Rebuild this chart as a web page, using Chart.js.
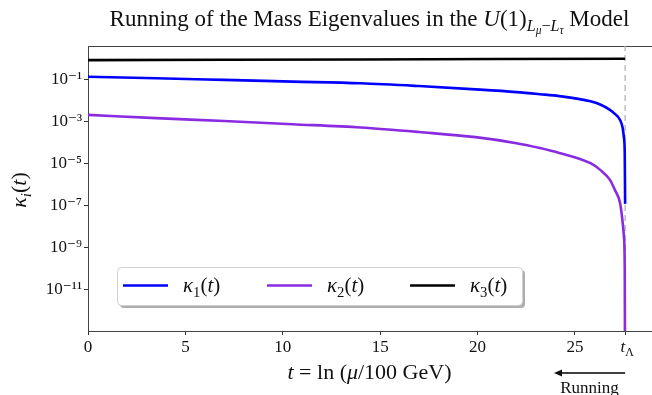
<!DOCTYPE html>
<html lang="en">
<head>
<meta charset="UTF-8">
<title>Running of the Mass Eigenvalues</title>
<script src="https://cdn.jsdelivr.net/npm/chart.js@4.4.0/dist/chart.umd.min.js"></script>
<style>
  body { margin: 0; background: #fff; overflow: hidden; }
</style>
</head>
<body>
<canvas id="chart" width="652" height="395"></canvas>
<script>
// values (log-scale y)
const T_LAMBDA = 27.58;
const X_MAX = 28.96;
const Y_MIN = 1e-13;
const Y_MAX = 3.86;

const tValues = [0, 3.5, 7, 10.5, 14, 17, 19.9, 22, 23.2, 24.2, 25.8, 26.3, 26.8, 27.05, 27.32, 27.45, 27.52, 27.56, 27.58];
const kappa1 = [0.133, 0.112, 0.0933, 0.0776, 0.0646, 0.0475, 0.0331, 0.0245, 0.0195, 0.0158, 0.0089, 0.0063, 0.0035, 0.00224, 0.00115, 5.0e-4, 1.6e-4, 3.2e-5, 1.15e-7];
const kappa2 = [2.0e-3, 1.41e-3, 1.02e-3, 7.2e-4, 5.0e-4, 3.05e-4, 1.74e-4, 9.0e-5, 5.3e-5, 3.1e-5, 1.0e-5, 4.8e-6, 1.6e-6, 5.4e-7, 1.26e-7, 1.6e-8, 3e-9, 1e-10, 1e-16];
const tKappa3 = [0, 7, 14, 21, 27.58];
const kappa3 = [0.82, 0.85, 0.88, 0.92, 0.95];

const xTicks = [0, 5, 10, 15, 20, 25];
const yTickExps = [-1, -3, -5, -7, -9, -11];

const FONT = '"Liberation Serif", "DejaVu Serif", serif';
const SUP = { '-': '⁻', '0': '⁰', '1': '¹', '2': '²', '3': '³', '4': '⁴', '5': '⁵', '6': '⁶', '7': '⁷', '8': '⁸', '9': '⁹' };

function toPoints(xs, ys) {
  return xs.map((x, i) => ({ x: x, y: ys[i] }));
}

// draw text made of pieces: i = italic, l = 0 normal, 1 subscript, 2 sub-subscript
function drawRich(ctx, parts, x, y, size, align) {
  const scale = [1, 0.7, 0.5];
  const shift = [0, 0.22, 0.36];
  let total = 0;
  const widths = parts.map(p => {
    ctx.font = (p.i ? 'italic ' : '') + (size * scale[p.l || 0]) + 'px ' + FONT;
    const w = ctx.measureText(p.s).width;
    total += w;
    return w;
  });
  let cx = align === 'center' ? x - total / 2 : (align === 'right' ? x - total : x);
  ctx.textAlign = 'left';
  ctx.textBaseline = 'alphabetic';
  parts.forEach((p, k) => {
    ctx.font = (p.i ? 'italic ' : '') + (size * scale[p.l || 0]) + 'px ' + FONT;
    ctx.fillText(p.s, cx, y + size * shift[p.l || 0]);
    cx += widths[k];
  });
}

const titleParts = [
  { s: 'Running of the Mass Eigenvalues in the ' }, { s: 'U', i: 1 }, { s: '(1)' },
  { s: 'L', i: 1, l: 1 }, { s: 'μ', i: 1, l: 2 }, { s: '−', l: 1 }, { s: 'L', i: 1, l: 1 }, { s: 'τ', i: 1, l: 2 },
  { s: ' Model' }
];
const xLabelParts = [{ s: 't', i: 1 }, { s: ' = ln (' }, { s: 'μ', i: 1 }, { s: '/100 GeV)' }];
const yLabelParts = [{ s: 'κ', i: 1 }, { s: 'i', i: 1, l: 1 }, { s: '(' }, { s: 't', i: 1 }, { s: ')' }];
const tLambdaParts = [{ s: 't', i: 1 }, { s: 'Λ', l: 1 }];

const annotations = {
  id: 'annotations',
  beforeDatasetsDraw(chart) {
    const ctx = chart.ctx;
    const a = chart.chartArea;
    ctx.save();
    ctx.strokeStyle = '#444';
    ctx.lineWidth = 1;
    ctx.strokeRect(a.left + 0.5, a.top + 0.5, a.right - a.left + 2, a.bottom - a.top);
    ctx.restore();
  },
  afterDraw(chart) {
    const ctx = chart.ctx;
    const xs = chart.scales.x;
    ctx.save();
    ctx.fillStyle = '#111';
    drawRich(ctx, titleParts, 369.5, 26, 23, 'center');
    drawRich(ctx, xLabelParts, 369.5, 379, 22, 'center');
    drawRich(ctx, tLambdaParts, xs.getPixelForValue(T_LAMBDA) + 2, 352, 17, 'center');

    ctx.save();
    ctx.translate(26, 190);
    ctx.rotate(-Math.PI / 2);
    drawRich(ctx, yLabelParts, 0, 0, 22, 'center');
    ctx.restore();

    // "Running" arrow
    const xe = xs.getPixelForValue(T_LAMBDA);
    ctx.strokeStyle = '#000';
    ctx.lineWidth = 1.5;
    ctx.beginPath();
    ctx.moveTo(xe, 373);
    ctx.lineTo(560, 373);
    ctx.stroke();
    ctx.beginPath();
    ctx.moveTo(554, 373);
    ctx.lineTo(562, 369.5);
    ctx.lineTo(562, 376.5);
    ctx.closePath();
    ctx.fill();
    ctx.font = '17px ' + FONT;
    ctx.textAlign = 'center';
    ctx.textBaseline = 'alphabetic';
    ctx.fillText('Running', 589.5, 393);

    // legend with shadow
    const bx = 117, by = 267, bw = 405, bh = 38;
    ctx.fillStyle = 'rgba(120,120,120,0.6)';
    ctx.beginPath();
    ctx.roundRect(bx + 3, by + 3, bw, bh, 4);
    ctx.fill();
    ctx.fillStyle = '#fff';
    ctx.strokeStyle = '#d0d0d0';
    ctx.lineWidth = 1;
    ctx.beginPath();
    ctx.roundRect(bx + 0.5, by + 0.5, bw, bh, 4);
    ctx.fill();
    ctx.stroke();
    const entryX = [123, 267, 410];
    chart.data.datasets.filter(d => d.legendParts).forEach((d, k) => {
      ctx.strokeStyle = d.borderColor;
      ctx.lineWidth = 2.4;
      ctx.beginPath();
      ctx.moveTo(entryX[k], 285.5);
      ctx.lineTo(entryX[k] + 45, 285.5);
      ctx.stroke();
      ctx.fillStyle = '#111';
      drawRich(ctx, d.legendParts, entryX[k] + 60, 292, 21, 'left');
    });
    ctx.restore();
  }
};

new Chart(document.getElementById('chart'), {
  type: 'line',
  data: {
    datasets: [
      {
        label: 'κ₁(t)',
        legendParts: [{ s: 'κ', i: 1 }, { s: '1', l: 1 }, { s: '(' }, { s: 't', i: 1 }, { s: ')' }],
        data: toPoints(tValues, kappa1),
        borderColor: '#0000ff',
        borderWidth: 2.6,
        cubicInterpolationMode: 'monotone',
        pointRadius: 0,
        order: 1
      },
      {
        label: 'κ₂(t)',
        legendParts: [{ s: 'κ', i: 1 }, { s: '2', l: 1 }, { s: '(' }, { s: 't', i: 1 }, { s: ')' }],
        data: toPoints(tValues, kappa2),
        borderColor: '#8a2be2',
        borderWidth: 2.6,
        cubicInterpolationMode: 'monotone',
        pointRadius: 0,
        order: 2
      },
      {
        label: 'κ₃(t)',
        legendParts: [{ s: 'κ', i: 1 }, { s: '3', l: 1 }, { s: '(' }, { s: 't', i: 1 }, { s: ')' }],
        data: toPoints(tKappa3, kappa3),
        borderColor: '#000000',
        borderWidth: 2.6,
        pointRadius: 0,
        order: 3
      },
      {
        label: 't_Λ',
        data: [{ x: T_LAMBDA, y: Y_MIN }, { x: T_LAMBDA, y: Y_MAX }],
        borderColor: '#b5b5b5',
        borderWidth: 1.3,
        borderDash: [6, 4],
        pointRadius: 0,
        order: 10
      }
    ]
  },
  options: {
    responsive: false,
    animation: false,
    devicePixelRatio: 1,
    layout: { padding: { left: 0, right: 0, top: 46, bottom: 0 } },
    scales: {
      x: {
        type: 'linear',
        min: 0,
        max: X_MAX,
        afterFit: s => { s.height = 64; },
        afterBuildTicks: s => { s.ticks = xTicks.concat([T_LAMBDA]).map(v => ({ value: v })); },
        border: { display: false },
        grid: { drawOnChartArea: false, drawTicks: true, tickLength: 4, color: '#333' },
        ticks: {
          autoSkip: false,
          maxRotation: 0,
          padding: 2,
          color: '#111',
          font: { family: FONT, size: 17 },
          callback: v => (v === T_LAMBDA ? '' : String(v))
        }
      },
      y: {
        type: 'logarithmic',
        min: Y_MIN,
        max: Y_MAX,
        afterFit: s => { s.width = 88; },
        afterBuildTicks: s => { s.ticks = yTickExps.map(e => ({ value: Math.pow(10, e) })); },
        border: { display: false },
        grid: { drawOnChartArea: false, drawTicks: true, tickLength: 4, color: '#333' },
        ticks: {
          padding: 2,
          color: '#111',
          font: { family: FONT, size: 17 },
          callback: v => '10' + String(Math.round(Math.log10(v))).split('').map(c => SUP[c]).join('')
        }
      }
    },
    plugins: {
      legend: { display: false },
      tooltip: { enabled: false }
    }
  },
  plugins: [annotations]
});
</script>
</body>
</html>
